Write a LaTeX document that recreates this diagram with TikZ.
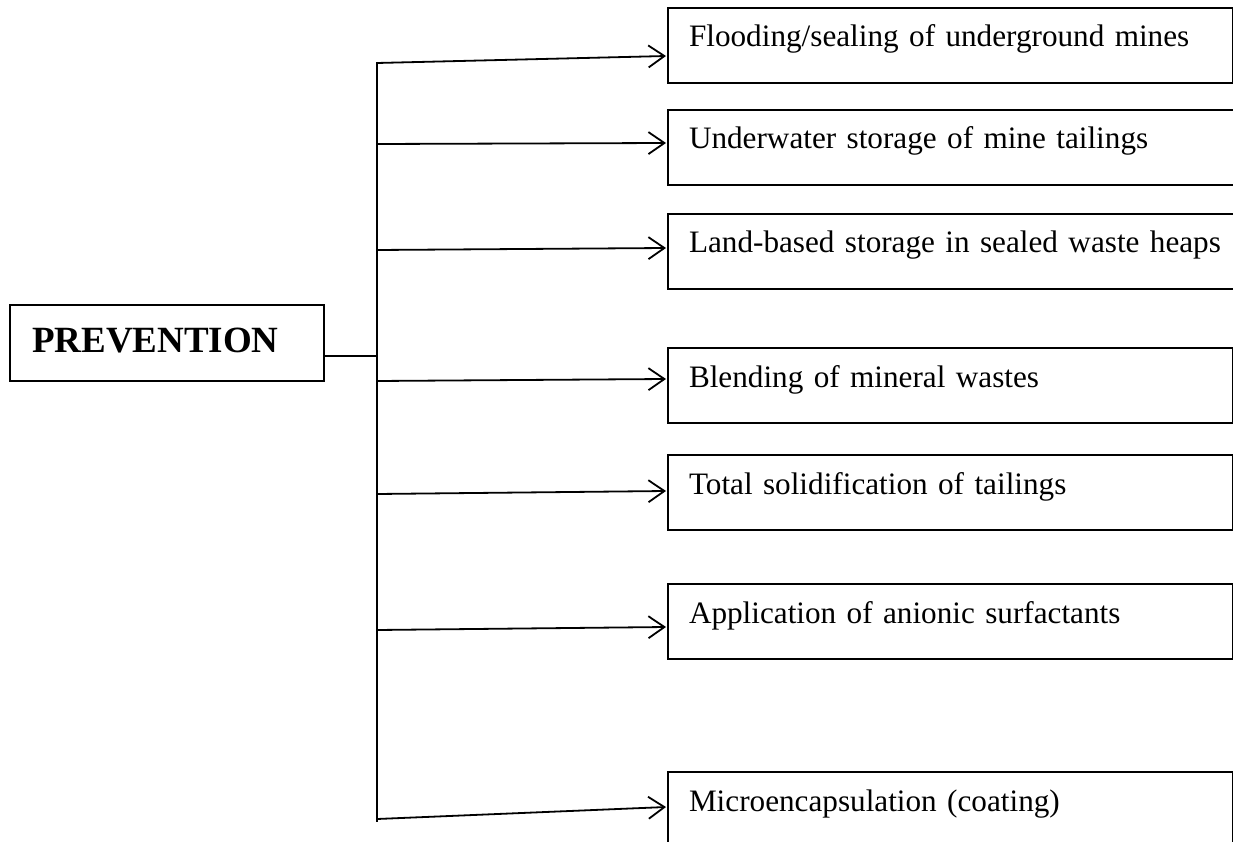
\documentclass[tikz,border=0pt]{standalone}
\usepackage{fontspec}
\setmainfont{Liberation Serif}
\usetikzlibrary{arrows.meta}

\tikzset{
  rootbox/.style={draw, line width=2pt, rectangle, anchor=north west,
    minimum height=76pt, inner xsep=22pt, inner ysep=0pt,
    text width=270pt, align=left,
    text height=27pt, text depth=9pt,
    font=\fontsize{37}{44}\selectfont\bfseries},
  itembox/.style={draw, line width=2pt, rectangle, anchor=north west,
    minimum height=75pt, inner xsep=21pt, inner ysep=0pt,
    text width=523pt, align=left,
    text height=22pt, text depth=19pt,
    font=\fontsize{31.2}{38}\selectfont},
  widebox/.style={itembox, text width=560pt},
  link/.style={line width=1.8pt},
  branch/.style={link, -{Straight Barb[length=16pt, width=22pt, line width=1.8pt]}}
}

\begin{document}
\begin{tikzpicture}[x=1pt, y=-1pt]
  \useasboundingbox (0,0) rectangle (1233,842);
  \clip (0,0) rectangle (1233,842);

  % root
  \node[rootbox] (prev) at (9,304) {PREVENTION};

  % measures
  \node[itembox] (b1) at (667,7)   {Flooding/sealing of underground mines};
  \node[widebox] (b2) at (667,109) {Underwater storage of mine tailings};
  \node[widebox] (b3) at (667,213) {Land-based storage in sealed waste heaps};
  \node[itembox] (b4) at (667,347) {Blending of mineral wastes};
  \node[itembox] (b5) at (667,454) {Total solidification of tailings};
  \node[itembox] (b6) at (667,583) {Application of anionic surfactants};
  \node[itembox] (b7) at (667,771) {Microencapsulation (coating)};

  % trunk and junction points
  \coordinate (j)   at (377,356);
  \coordinate (top) at (377,62);
  \coordinate (bot) at (377,822);
  \coordinate (s1) at (377,63);
  \coordinate (s2) at (377,144);
  \coordinate (s3) at (377,250);
  \coordinate (s4) at (377,381);
  \coordinate (s5) at (377,494);
  \coordinate (s6) at (377,630);
  \coordinate (s7) at (377,819);

  % arrow targets on the left sides of the boxes
  \coordinate (e1) at (666,56);
  \coordinate (e2) at (666,143);
  \coordinate (e3) at (666,248);
  \coordinate (e4) at (666,379);
  \coordinate (e5) at (666,491);
  \coordinate (e6) at (666,627);
  \coordinate (e7) at (666,807);

  \draw[link] (prev.east |- j) -- (j);
  \draw[link] (top) -- (bot);

  \foreach \i in {1,...,7}
    \draw[branch] (s\i) -- (e\i);
\end{tikzpicture}
\end{document}
